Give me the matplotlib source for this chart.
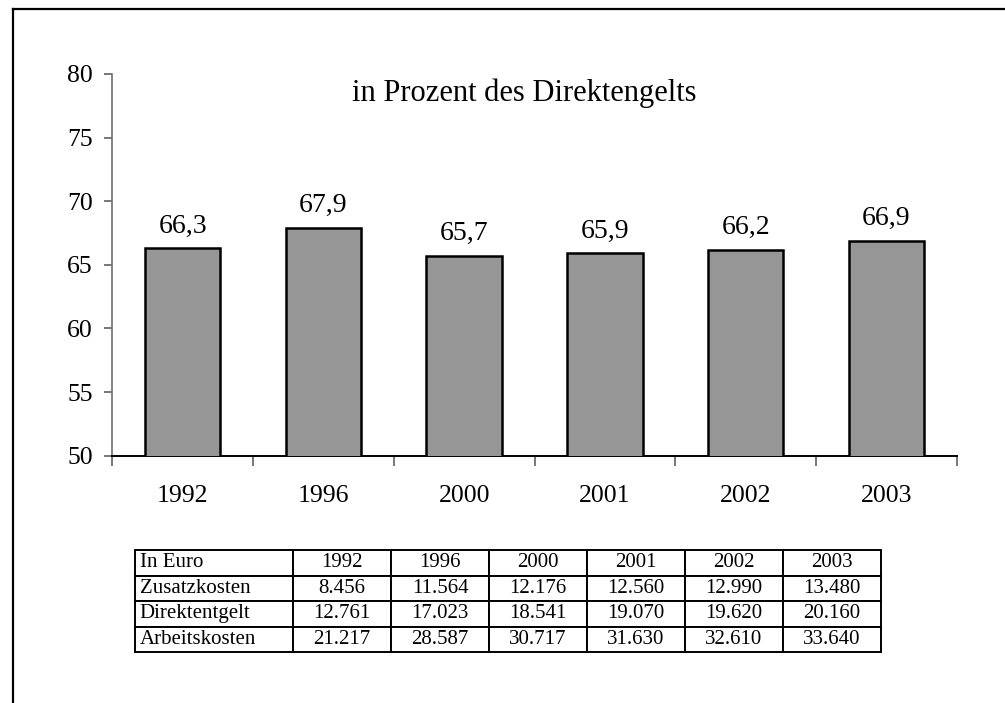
import numpy as np
import matplotlib.pyplot as plt
from matplotlib.lines import Line2D

# Chart data
years = ['1992', '1996', '2000', '2001', '2002', '2003']
percent_values = [66.3, 67.9, 65.7, 65.9, 66.2, 66.9]
percent_labels = ['66,3', '67,9', '65,7', '65,9', '66,2', '66,9']

# Table data
row_labels = ['Zusatzkosten', 'Direktentgelt', 'Arbeitskosten']
zusatzkosten = ['8.456', '11.564', '12.176', '12.560', '12.990', '13.480']
direktentgelt = ['12.761', '17.023', '18.541', '19.070', '19.620', '20.160']
arbeitskosten = ['21.217', '28.587', '30.717', '31.630', '32.610', '33.640']

plt.rcParams['font.family'] = ['Liberation Serif', 'DejaVu Serif']

W, H = 1005, 703
fig = plt.figure(figsize=(W / 100, H / 100), dpi=100)

# outer frame (left and top edges)
fig.add_artist(Line2D([13 / W, 13 / W], [0, 1 - 9 / H], color='black', lw=1.6,
                      transform=fig.transFigure))
fig.add_artist(Line2D([13 / W, 1], [1 - 9 / H, 1 - 9 / H], color='black', lw=1.6,
                      transform=fig.transFigure))

left, right, top, bottom = 112.3, 956.7, 74, 455.7
ax = fig.add_axes([left / W, 1 - bottom / H, (right - left) / W, (bottom - top) / H])

x = np.arange(len(years))
ax.bar(x, percent_values, width=0.535, color='#969696', edgecolor='black', linewidth=1.8, zorder=3)
for xi, v, lab in zip(x, percent_values, percent_labels):
    ax.annotate(lab, (xi, v), xytext=(0, 7), textcoords='offset points',
                ha='center', va='bottom', fontsize=20)

ax.set_xlim(-0.5, len(years) - 0.5)
ax.set_ylim(50, 80)
ax.set_yticks(np.arange(50, 81, 5))
ax.tick_params(axis='y', labelsize=18.5, length=6, width=1.2, color='#606060', pad=8, direction='out')

# boundary ticks on x, labels at centres
ax.set_xticks(np.arange(-0.5, len(years), 1.0))
ax.set_xticklabels([])
ax.set_xticks(x, minor=True)
ax.set_xticklabels(years, minor=True)
ax.tick_params(axis='x', which='major', length=7, width=1.2, color='#606060', direction='out')
ax.tick_params(axis='x', which='minor', length=0, labelsize=18.5, pad=21)

for s in ['top', 'right']:
    ax.spines[s].set_visible(False)
ax.spines['left'].set_color('#707070')
ax.spines['left'].set_linewidth(1.2)
ax.spines['bottom'].set_color('black')
ax.spines['bottom'].set_linewidth(1.4)

ax.text(2.43, 78.5, 'in Prozent des Direktengelts', ha='center', va='center', fontsize=22)

# data table below the chart
t_left, t_right, t_top, t_bottom = 135, 881, 550, 652
tax = fig.add_axes([t_left / W, 1 - t_bottom / H, (t_right - t_left) / W, (t_bottom - t_top) / H])
tax.axis('off')
cell_text = [['In Euro'] + years,
             [row_labels[0]] + zusatzkosten,
             [row_labels[1]] + direktentgelt,
             [row_labels[2]] + arbeitskosten]
first_w = 158 / (t_right - t_left)
other_w = (1 - first_w) / len(years)
tbl = tax.table(cellText=cell_text, colWidths=[first_w] + [other_w] * len(years),
                bbox=[0, 0, 1, 1], cellLoc='center')
tbl.auto_set_font_size(False)
for (r, c), cell in tbl.get_celld().items():
    cell.set_linewidth(1.4)
    cell.set_edgecolor('black')
    cell.get_text().set_fontsize(15)
    if c == 0:
        cell.get_text().set_ha('left')
        cell.PAD = 0.03

fig.savefig('out.png', dpi=100)
